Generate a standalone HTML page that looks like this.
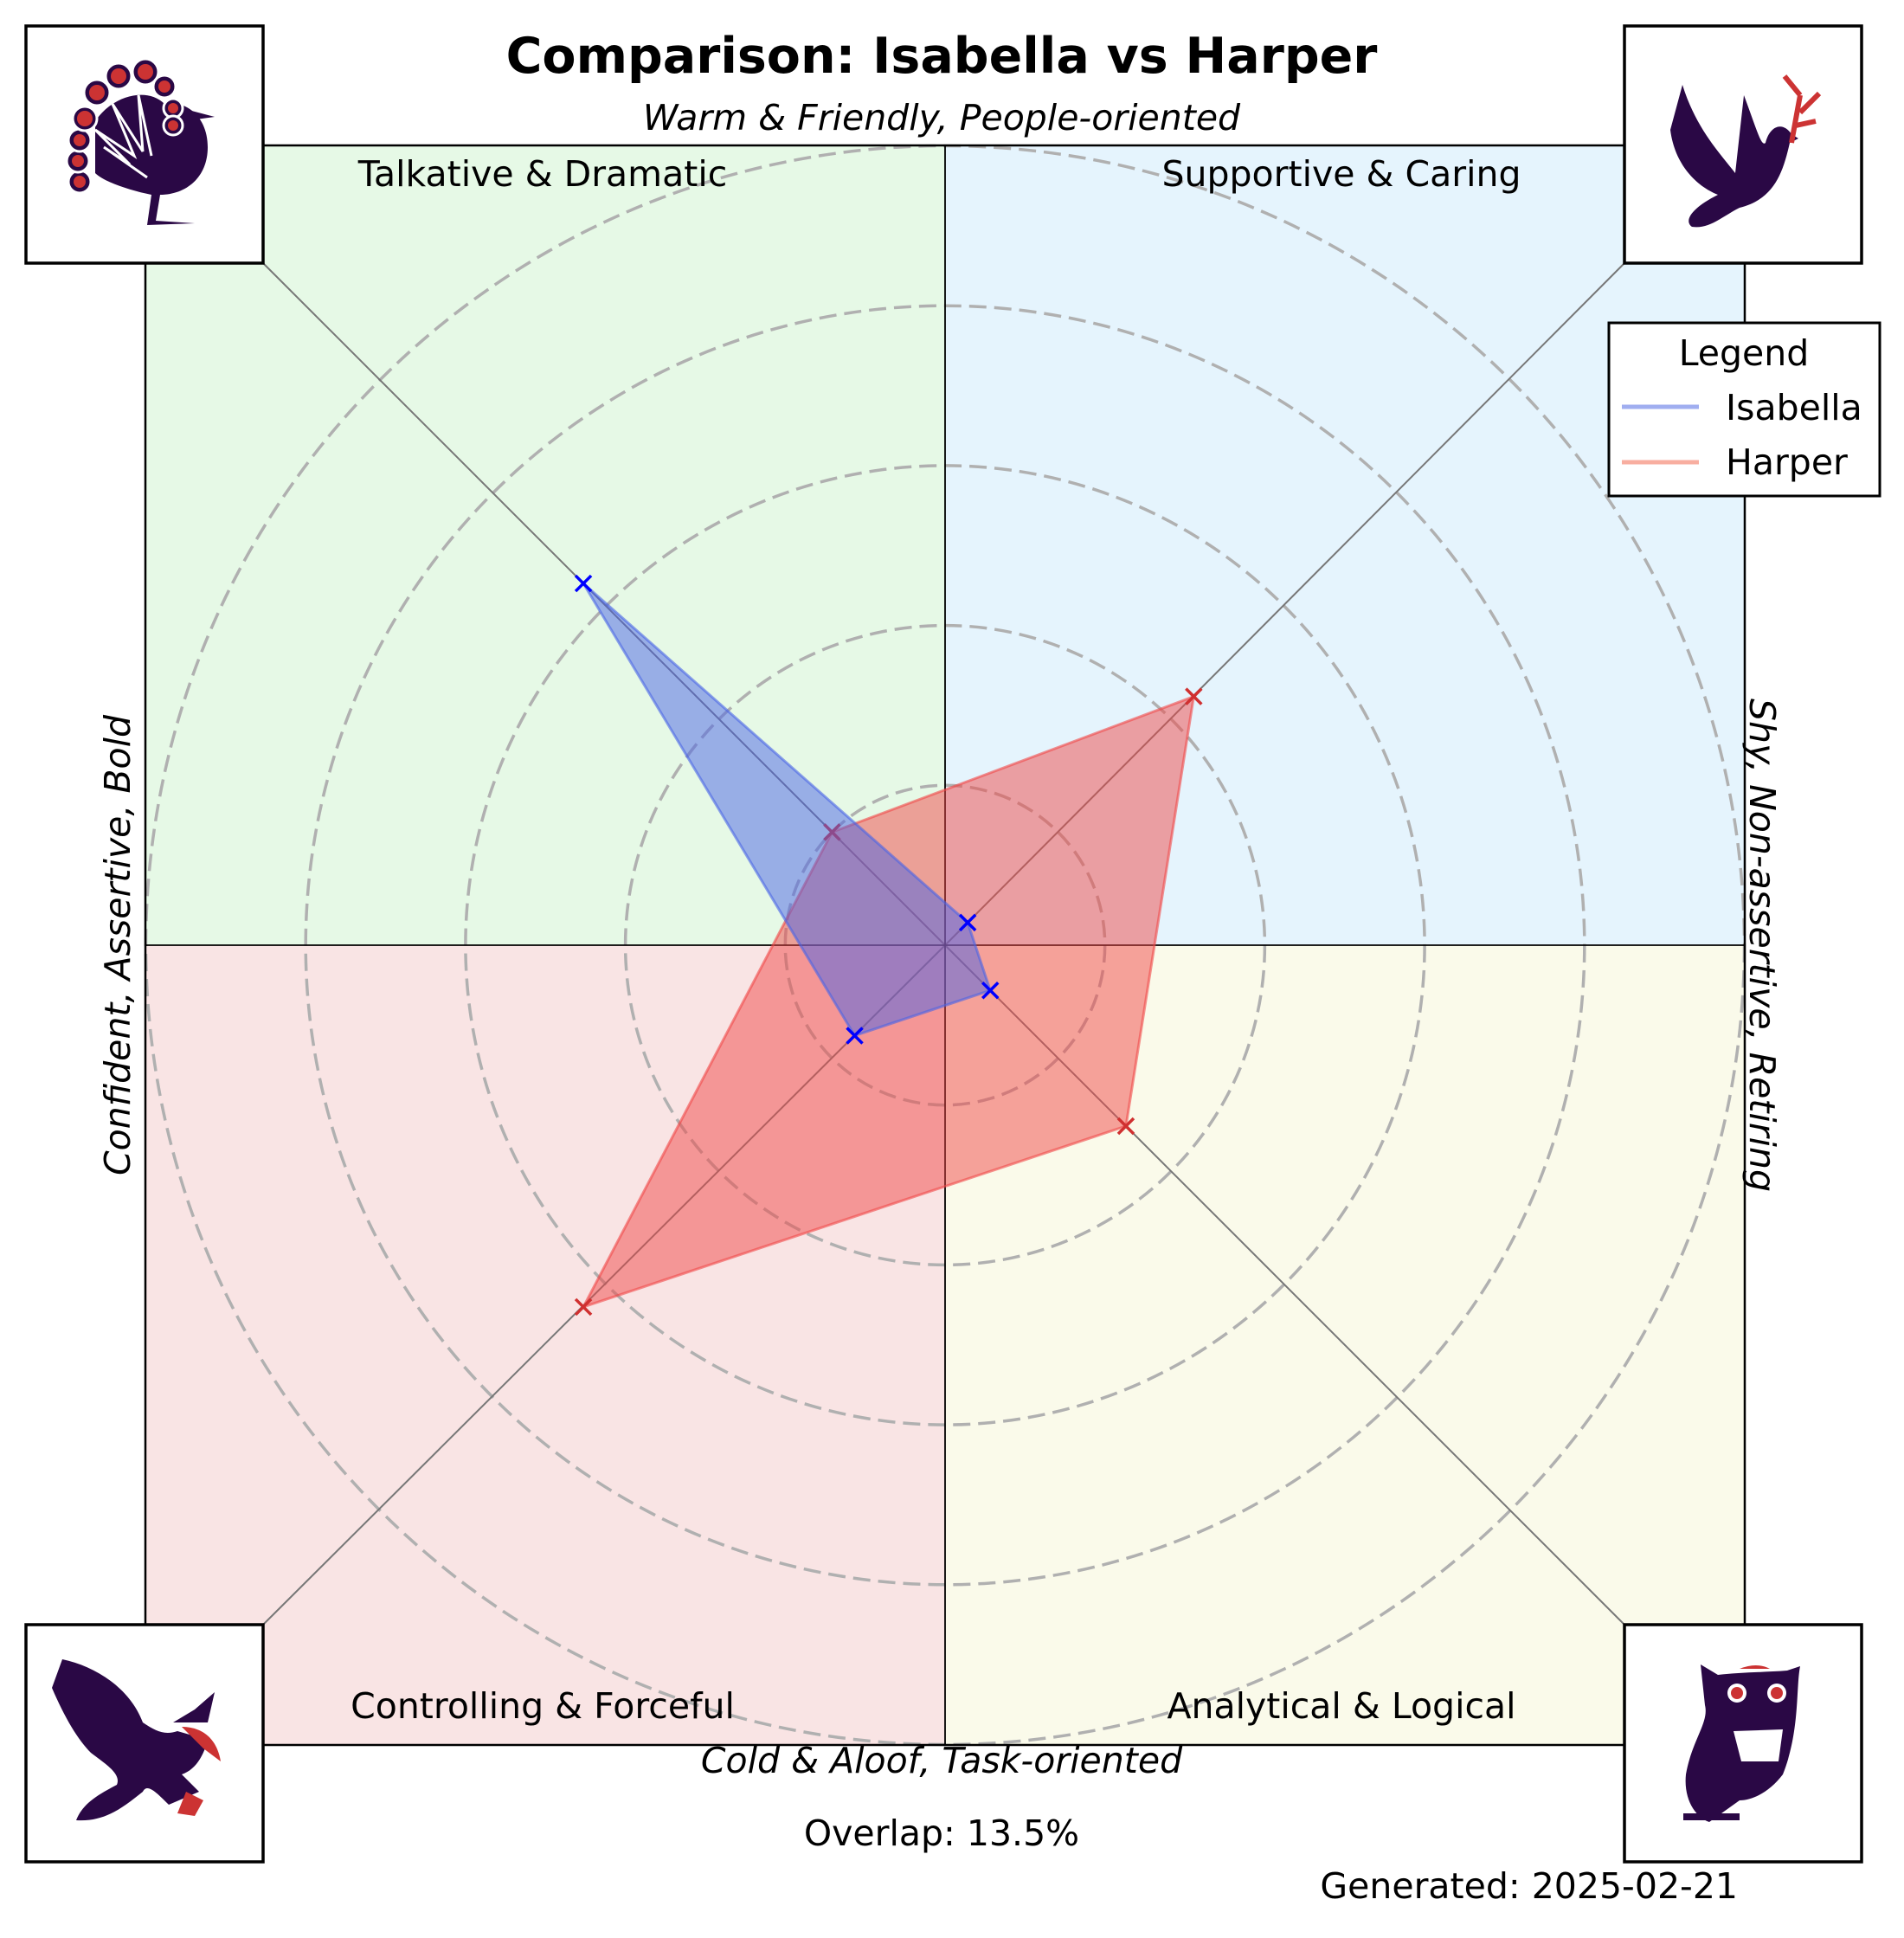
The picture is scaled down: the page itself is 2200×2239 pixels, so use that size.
<!DOCTYPE html>
<html><head><meta charset="utf-8">
<style>
html,body{margin:0;padding:0;background:#fff;}
svg{display:block;}
text{font-family:"DejaVu Sans","Liberation Sans",sans-serif;}
</style></head>
<body>
<svg id="chart" width="2200" height="2239" viewBox="0 0 2200 2239" xmlns="http://www.w3.org/2000/svg">
  <g>
    <rect x="168" y="168" width="924" height="924" fill="#e6f9e6"/>
    <rect x="1092" y="168" width="924" height="924" fill="#e5f4fd"/>
    <rect x="168" y="1092" width="924" height="924" fill="#f9e4e4"/>
    <rect x="1092" y="1092" width="924" height="924" fill="#fafaea"/>
  </g>
  <g id="rings"></g>
  <g>
    <line x1="1092" y1="1092" x2="305" y2="305" stroke="#777" stroke-width="2"/>
    <line x1="1092" y1="1092" x2="1876" y2="305" stroke="#777" stroke-width="2"/>
    <line x1="1092" y1="1092" x2="305" y2="1876" stroke="#777" stroke-width="2"/>
    <line x1="1092" y1="1092" x2="1876" y2="1876" stroke="#777" stroke-width="2"/>
    <line x1="1092" y1="168" x2="1092" y2="2016" stroke="#000" stroke-width="1.8"/>
    <line x1="168" y1="1092" x2="2016" y2="1092" stroke="#000" stroke-width="1.8"/>
    <rect x="168" y="168" width="1848" height="1848" fill="none" stroke="#000" stroke-width="2.5"/>
  </g>
  <g id="series"></g>

  <g font-size="41" fill="#000" text-anchor="middle">
    <text x="627" y="215">Talkative &amp; Dramatic</text>
    <text x="1550" y="215">Supportive &amp; Caring</text>
    <text x="627" y="1985">Controlling &amp; Forceful</text>
    <text x="1550" y="1985">Analytical &amp; Logical</text>
  </g>
  <text x="1088" y="84" font-size="57" font-weight="bold" text-anchor="middle">Comparison: Isabella vs Harper</text>
  <text x="1088" y="150" font-size="41" font-style="italic" text-anchor="middle">Warm &amp; Friendly, People-oriented</text>
  <text x="1088" y="2048" font-size="41" font-style="italic" text-anchor="middle">Cold &amp; Aloof, Task-oriented</text>
  <text transform="translate(150,1092) rotate(-90)" font-size="41" font-style="italic" text-anchor="middle">Confident, Assertive, Bold</text>
  <text transform="translate(2022,1092) rotate(90)" font-size="41" font-style="italic" text-anchor="middle">Shy, Non-assertive, Retiring</text>
  <text x="1088" y="2132" font-size="41" text-anchor="middle">Overlap: 13.5%</text>
  <text x="2008" y="2193" font-size="41" text-anchor="end">Generated: 2025-02-21</text>

  <g>
    <rect x="1859" y="373" width="313" height="200" fill="#fff" stroke="#000" stroke-width="3"/>
    <text x="2015" y="422" font-size="41" text-anchor="middle">Legend</text>
    <line x1="1874" y1="470" x2="1963" y2="470" stroke="#a0aef0" stroke-width="5"/>
    <text x="1994" y="485" font-size="41">Isabella</text>
    <line x1="1874" y1="534" x2="1963" y2="534" stroke="#f8aea0" stroke-width="5"/>
    <text x="1994" y="548" font-size="41">Harper</text>
  </g>

  <g>
    <rect x="30" y="30" width="274" height="274" fill="#fff" stroke="#000" stroke-width="3.5"/>
    <path d="M190 120 C215 115 240 135 240 170 C240 205 215 225 185 225 L180 255 L225 258 L170 260 L175 225 C150 220 120 210 110 200 L110 140 C130 110 170 100 190 120 Z" fill="#2a0845"/>
    <path d="M210 125 L248 135 L212 140 Z" fill="#2a0845"/>
    <g fill="#2a0845" stroke="#fff" stroke-width="3">
      <circle cx="92" cy="210" r="13"/><circle cx="90" cy="186" r="13"/><circle cx="92" cy="162" r="13"/><circle cx="98" cy="137" r="14"/>
      <circle cx="112" cy="107" r="15"/><circle cx="137" cy="88" r="15"/><circle cx="168" cy="83" r="15"/><circle cx="190" cy="100" r="13"/>
      <circle cx="200" cy="125" r="11"/><circle cx="200" cy="145" r="11"/>
    </g>
    <g fill="#cc3333">
      <circle cx="92" cy="210" r="7"/><circle cx="90" cy="186" r="7"/><circle cx="92" cy="162" r="7"/><circle cx="98" cy="137" r="9"/>
      <circle cx="112" cy="107" r="9"/><circle cx="137" cy="88" r="9"/><circle cx="168" cy="83" r="9"/><circle cx="190" cy="100" r="7"/>
      <circle cx="200" cy="125" r="6"/><circle cx="200" cy="145" r="6"/>
    </g>
    <path d="M170 205 L120 170 L150 190 L110 150 L155 180 L130 120 L165 175 L160 110 L175 180" stroke="#fff" stroke-width="3" fill="none"/>
  </g>
  <g>
    <rect x="1877" y="30" width="274" height="274" fill="#fff" stroke="#000" stroke-width="3.5"/>
    <path d="M1944 98 C1960 150 1990 180 2005 200 L2015 110 C2030 150 2035 170 2040 165 C2045 145 2060 140 2070 155 L2078 160 L2068 165 C2060 200 2050 230 2010 240 C1990 250 1975 265 1955 262 C1945 255 1955 240 1985 225 C1960 215 1935 190 1930 150 Z" fill="#2a0845"/>
    <path d="M2070 165 L2080 110 M2080 110 L2062 88 M2080 130 L2102 108 M2075 145 L2098 140" stroke="#cc3333" stroke-width="6" fill="none"/>
  </g>
  <g>
    <rect x="30" y="1877" width="274" height="274" fill="#fff" stroke="#000" stroke-width="3.5"/>
    <path d="M72 1917 C110 1925 150 1950 165 1990 C180 2000 190 2005 205 2000 L240 2010 C235 2030 225 2045 210 2050 L230 2070 L195 2085 C180 2070 170 2060 165 2070 C140 2090 120 2105 88 2103 C95 2085 110 2075 135 2062 C140 2050 125 2040 105 2025 C90 2010 75 1985 60 1950 Z" fill="#2a0845"/>
    <path d="M210 1995 C230 1995 250 2005 255 2035 L235 2020 Z" fill="#cc3333"/>
    <path d="M215 2070 L235 2080 L225 2098 L205 2095 Z" fill="#cc3333"/>
    <path d="M200 1990 L225 1975 L248 1955 L240 1990 Z" fill="#2a0845"/>
  </g>
  <g>
    <rect x="1877" y="1877" width="274" height="274" fill="#fff" stroke="#000" stroke-width="3.5"/>
    <path d="M1965 1923 L1985 1935 C2010 1932 2040 1932 2065 1930 L2080 1925 C2075 1950 2080 2000 2060 2050 C2045 2070 2025 2080 2010 2080 L1975 2105 C1960 2100 1945 2080 1948 2050 C1955 2010 1975 1990 1970 1970 Z" fill="#2a0845"/>
    <rect x="1945" y="2095" width="65" height="8" fill="#2a0845"/>
    <path d="M2003 2000 L2060 1998 L2055 2035 L2012 2035 Z" fill="#fff"/>
    <circle cx="2007" cy="1956" r="11" fill="#fff"/><circle cx="2007" cy="1956" r="7" fill="#cc3333"/>
    <circle cx="2053" cy="1956" r="11" fill="#fff"/><circle cx="2053" cy="1956" r="7" fill="#cc3333"/>
    <path d="M2010 1928 Q2030 1920 2045 1928 Z" fill="#cc3333"/>
  </g>

<script>
const axisAngles = [135, 45, 315, 225]; // NW, NE, SE, SW (degrees)
const axisNames = ['talkative', 'supportive', 'analytical', 'controlling'];
const isabellaValues = [3.2, 0.2, 0.4, 0.8];
const harperValues = [1.0, 2.2, 1.6, 3.2];
const ringValues = [1, 2, 3, 4, 5];

const NS = 'http://www.w3.org/2000/svg';
const cx = 1092, cy = 1092, unit = 184.7;
function rScale(v){ return v * unit; }
function px(v, ang){ return cx + rScale(v) * Math.cos(ang * Math.PI / 180); }
function py(v, ang){ return cy - rScale(v) * Math.sin(ang * Math.PI / 180); }

const ringG = document.getElementById('rings');
ringValues.forEach(function(v){
  const c = document.createElementNS(NS, 'circle');
  
  
  c.setAttribute('cx', cx); c.setAttribute('cy', cy); c.setAttribute('r', rScale(v));
  c.setAttribute('fill', 'none'); c.setAttribute('stroke', '#b0b0b0');
  c.setAttribute('stroke-width', '3.5'); c.setAttribute('stroke-dasharray', '20 9');
  ringG.appendChild(c);
});

const seriesG = document.getElementById('series');
function drawSeries(name, values, fill, stroke, marker){
  const pts = values.map(function(v, i){ return px(v, axisAngles[i]).toFixed(1) + ',' + py(v, axisAngles[i]).toFixed(1); }).join(' ');
  const poly = document.createElementNS(NS, 'polygon');
  
  
  poly.setAttribute('points', pts);
  poly.setAttribute('fill', fill); poly.setAttribute('fill-opacity', '0.5');
  poly.setAttribute('stroke', stroke); poly.setAttribute('stroke-opacity', '0.6'); poly.setAttribute('stroke-width', '3');
  seriesG.appendChild(poly);
  values.forEach(function(v, i){
    const x = px(v, axisAngles[i]), y = py(v, axisAngles[i]), s = 9;
    const m = document.createElementNS(NS, 'path');
    
    
    m.setAttribute('d', 'M' + (x - s) + ' ' + (y - s) + 'L' + (x + s) + ' ' + (y + s) + 'M' + (x - s) + ' ' + (y + s) + 'L' + (x + s) + ' ' + (y - s));
    m.setAttribute('stroke', marker); m.setAttribute('stroke-width', '3.5');
    seriesG.appendChild(m);
  });
}
drawSeries('harper', harperValues, '#f04848', '#f04848', '#d03030');
drawSeries('isabella', isabellaValues, '#4a64e6', '#4a64e6', '#0000ff');
</script>
</svg>
</body></html>
